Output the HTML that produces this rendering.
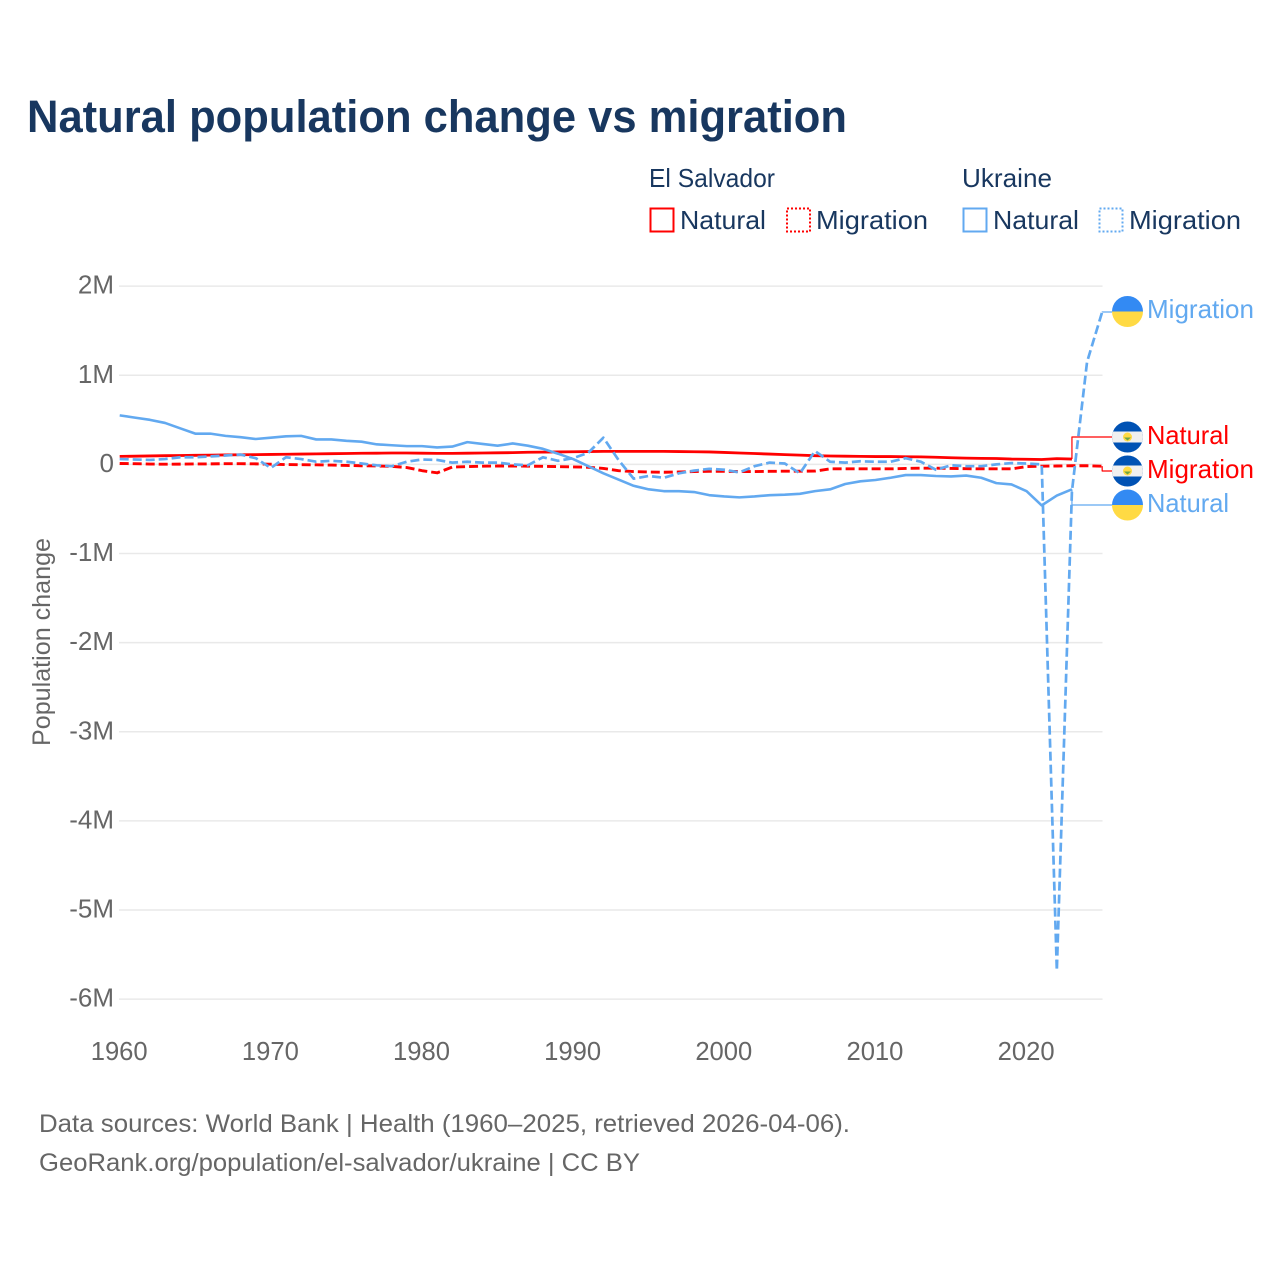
<!DOCTYPE html>
<html lang="en">
<head>
<meta charset="utf-8">
<title>Natural population change vs migration</title>
<style>
html,body{margin:0;padding:0;background:#fff;}
svg{display:block;font-family:"Liberation Sans",sans-serif;}
</style>
</head>
<body>
<svg id="chart" width="1280" height="1280" viewBox="0 0 1280 1280" xmlns="http://www.w3.org/2000/svg">
  <rect width="1280" height="1280" fill="#fff"/>
  <text x="27" y="132" font-size="45" font-weight="700" fill="#18375f" textLength="820" lengthAdjust="spacingAndGlyphs">Natural population change vs migration</text>

  <g font-size="26" fill="#18375f">
    <text x="649" y="187" textLength="126" lengthAdjust="spacingAndGlyphs">El Salvador</text>
    <text x="962" y="187" textLength="90" lengthAdjust="spacingAndGlyphs">Ukraine</text>
    <rect x="650.5" y="208.5" width="23" height="23" fill="none" stroke="#ff0000" stroke-width="2"/>
    <text x="680" y="229" textLength="86" lengthAdjust="spacingAndGlyphs">Natural</text>
    <rect x="787" y="208.5" width="23" height="23" fill="none" stroke="#ff0000" stroke-width="2" stroke-dasharray="2 2"/>
    <text x="816" y="229" textLength="112" lengthAdjust="spacingAndGlyphs">Migration</text>
    <rect x="963.5" y="208.5" width="23" height="23" fill="none" stroke="#62a9f0" stroke-width="2"/>
    <text x="993" y="229" textLength="86" lengthAdjust="spacingAndGlyphs">Natural</text>
    <rect x="1099.5" y="208.5" width="23" height="23" fill="none" stroke="#62a9f0" stroke-width="2" stroke-dasharray="2 2"/>
    <text x="1129" y="229" textLength="112" lengthAdjust="spacingAndGlyphs">Migration</text>
  </g>

  <g id="grid"></g>
  <g id="yticks" font-size="26" fill="#666" text-anchor="end"></g>
  <g id="xticks" font-size="25.6" fill="#666" text-anchor="middle"></g>
  <text transform="translate(50 642) rotate(-90)" text-anchor="middle" font-size="25" fill="#666" textLength="208" lengthAdjust="spacingAndGlyphs">Population change</text>
  <g id="series" fill="none" stroke-linejoin="round"></g>

  <defs>
    <clipPath id="flag-clip-1"><circle cx="1127.5" cy="311.5" r="15.5"/></clipPath>
    <clipPath id="flag-clip-2"><circle cx="1127.5" cy="437" r="15.5"/></clipPath>
    <clipPath id="flag-clip-3"><circle cx="1127.5" cy="471" r="15.5"/></clipPath>
    <clipPath id="flag-clip-4"><circle cx="1127.5" cy="505" r="15.5"/></clipPath>
  </defs>
  <g clip-path="url(#flag-clip-1)">
    <rect x="1112" y="295" width="31" height="16.5" fill="#338af3"/>
    <rect x="1112" y="311.5" width="31" height="16.5" fill="#ffda44"/>
  </g>
  <g clip-path="url(#flag-clip-2)">
    <rect x="1112" y="421" width="31" height="32" fill="#0052b4"/>
    <rect x="1112" y="431.5" width="31" height="11" fill="#f0f0f0"/>
    <circle cx="1127.5" cy="437" r="4.5" fill="#ffda44"/>
    <path d="M1124 437.5h7l-3.5 3z" fill="#6da544"/>
  </g>
  <g clip-path="url(#flag-clip-3)">
    <rect x="1112" y="455" width="31" height="32" fill="#0052b4"/>
    <rect x="1112" y="465.5" width="31" height="11" fill="#f0f0f0"/>
    <circle cx="1127.5" cy="471" r="4.5" fill="#ffda44"/>
    <path d="M1124 471.5h7l-3.5 3z" fill="#6da544"/>
  </g>
  <g clip-path="url(#flag-clip-4)">
    <rect x="1112" y="489" width="31" height="16" fill="#338af3"/>
    <rect x="1112" y="505" width="31" height="16" fill="#ffda44"/>
  </g>

  <g font-size="26">
    <text x="1147" y="318" fill="#62a9f0" textLength="107" lengthAdjust="spacingAndGlyphs">Migration</text>
    <text x="1147" y="444" fill="#ff0000" textLength="82" lengthAdjust="spacingAndGlyphs">Natural</text>
    <text x="1147" y="478" fill="#ff0000" textLength="107" lengthAdjust="spacingAndGlyphs">Migration</text>
    <text x="1147" y="512" fill="#62a9f0" textLength="82" lengthAdjust="spacingAndGlyphs">Natural</text>
  </g>

  <g font-size="25" fill="#666">
    <text x="39" y="1132" textLength="811" lengthAdjust="spacingAndGlyphs">Data sources: World Bank | Health (1960–2025, retrieved 2026-04-06).</text>
    <text x="39" y="1171" textLength="601" lengthAdjust="spacingAndGlyphs">GeoRank.org/population/el-salvador/ukraine | CC BY</text>
  </g>
</svg>
<script>
const firstYear = 1960;
const xTickYears = [1960, 1970, 1980, 1990, 2000, 2010, 2020];
const yTickValues = [2, 1, 0, -1, -2, -3, -4, -5, -6];
const yTickLabels = ["2M", "1M", "0", "-1M", "-2M", "-3M", "-4M", "-5M", "-6M"];

const elSalvadorNatural = [0.09,0.092,0.095,0.098,0.1,0.102,0.104,0.106,0.108,0.11,0.112,0.114,0.116,0.118,0.12,0.122,0.125,0.126,0.128,0.128,0.126,0.124,0.124,0.126,0.128,0.13,0.132,0.136,0.138,0.14,0.142,0.144,0.146,0.146,0.146,0.146,0.146,0.144,0.142,0.14,0.134,0.128,0.122,0.116,0.11,0.104,0.098,0.094,0.092,0.09,0.088,0.088,0.086,0.084,0.08,0.075,0.07,0.068,0.066,0.06,0.058,0.055,0.065,0.06,null,null];
const elSalvadorMigration = [0.01,0.008,0.004,0.002,0.003,0.005,0.006,0.008,0.008,0.006,0.002,-0.002,-0.003,-0.005,-0.008,-0.012,-0.015,-0.018,-0.022,-0.035,-0.07,-0.095,-0.03,-0.025,-0.02,-0.018,-0.018,-0.02,-0.022,-0.025,-0.028,-0.032,-0.045,-0.07,-0.08,-0.085,-0.088,-0.085,-0.08,-0.078,-0.078,-0.08,-0.08,-0.078,-0.076,-0.076,-0.075,-0.05,-0.05,-0.05,-0.05,-0.05,-0.045,-0.042,-0.042,-0.045,-0.048,-0.05,-0.05,-0.05,-0.025,-0.02,-0.018,-0.015,-0.015,-0.02];
const ukraineNatural = [0.55,0.525,0.5,0.465,0.405,0.345,0.345,0.32,0.305,0.285,0.3,0.315,0.32,0.28,0.28,0.265,0.255,0.225,0.215,0.205,0.205,0.19,0.2,0.25,0.23,0.21,0.235,0.21,0.175,0.12,0.06,-0.02,-0.1,-0.17,-0.24,-0.28,-0.3,-0.3,-0.31,-0.345,-0.36,-0.37,-0.36,-0.345,-0.34,-0.33,-0.3,-0.28,-0.22,-0.19,-0.175,-0.15,-0.12,-0.12,-0.13,-0.135,-0.125,-0.15,-0.21,-0.225,-0.3,-0.46,-0.35,-0.28,null,null];
const ukraineMigration = [0.06,0.055,0.05,0.06,0.08,0.08,0.09,0.1,0.11,0.07,-0.04,0.08,0.06,0.03,0.04,0.03,0.01,-0.01,-0.02,0.03,0.055,0.05,0.02,0.03,0.02,0.02,0,-0.01,0.08,0.04,0.07,0.13,0.3,0.05,-0.16,-0.13,-0.15,-0.1,-0.07,-0.05,-0.06,-0.09,-0.02,0.02,0.01,-0.1,0.15,0.03,0.02,0.035,0.03,0.03,0.07,0.03,-0.06,-0.01,-0.02,-0.02,0,0.015,0.01,0,-5.68,-0.3,1.15,1.71];

const SVG_NS = "http://www.w3.org/2000/svg";
const xScale = function (year) { return 119.7 + (year - firstYear) * 15.115; };
const yScale = function (v) { return 464.4 - v * 89.12; };
const RED = "#ff0000";
const BLUE = "#62a9f0";

function make(tag, attrs, parent) {
  const el = document.createElementNS(SVG_NS, tag);
  for (const k in attrs) el.setAttribute(k, attrs[k]);
  parent.appendChild(el);
  return el;
}

const gridG = document.getElementById("grid");
const yTickG = document.getElementById("yticks");
const xTickG = document.getElementById("xticks");
const seriesG = document.getElementById("series");

yTickValues.forEach(function (v, i) {
  const y = yScale(v);
  const line = make("line", {x1: 119, x2: 1102.5, y1: y, y2: y, stroke: "#e9e9e9", "stroke-width": 1.5}, gridG);
  
  
  const t = make("text", {x: 114, y: y + 7.5}, yTickG);
  
  
  t.textContent = yTickLabels[i];
});

xTickYears.forEach(function (yr) {
  const t = make("text", {x: xScale(yr) - 0.5, y: 1060}, xTickG);
  
  
  t.textContent = String(yr);
});

function linePath(values) {
  let d = "";
  values.forEach(function (v, i) {
    if (v === null || v === undefined) return;
    d += (d ? "L" : "M") + xScale(firstYear + i).toFixed(2) + " " + yScale(v).toFixed(2);
  });
  return d;
}

function lastPoint(values) {
  for (let i = values.length - 1; i >= 0; i--) {
    if (values[i] !== null && values[i] !== undefined) {
      return [xScale(firstYear + i), yScale(values[i])];
    }
  }
  return [0, 0];
}

function connector(values, labelY, color) {
  const p = lastPoint(values);
  const c = make("path", {d: "M" + p[0] + " " + p[1] + "V" + labelY + "H1112", stroke: color, "stroke-width": 1.2}, seriesG);
  
  
}

connector(elSalvadorNatural, 437, RED);
connector(elSalvadorMigration, 471, RED);
connector(ukraineNatural, 505, BLUE);
connector(ukraineMigration, 312, BLUE);

const natRed = make("path", {d: linePath(elSalvadorNatural), stroke: RED, "stroke-width": 2.8}, seriesG);



const migRed = make("path", {d: linePath(elSalvadorMigration), stroke: RED, "stroke-width": 2.9, "stroke-dasharray": "9 4"}, seriesG);



const natBlue = make("path", {d: linePath(ukraineNatural), stroke: BLUE, "stroke-width": 2.6}, seriesG);



const migBlue = make("path", {d: linePath(ukraineMigration), stroke: BLUE, "stroke-width": 2.7, "stroke-dasharray": "9 4"}, seriesG);


</script>
</body>
</html>
